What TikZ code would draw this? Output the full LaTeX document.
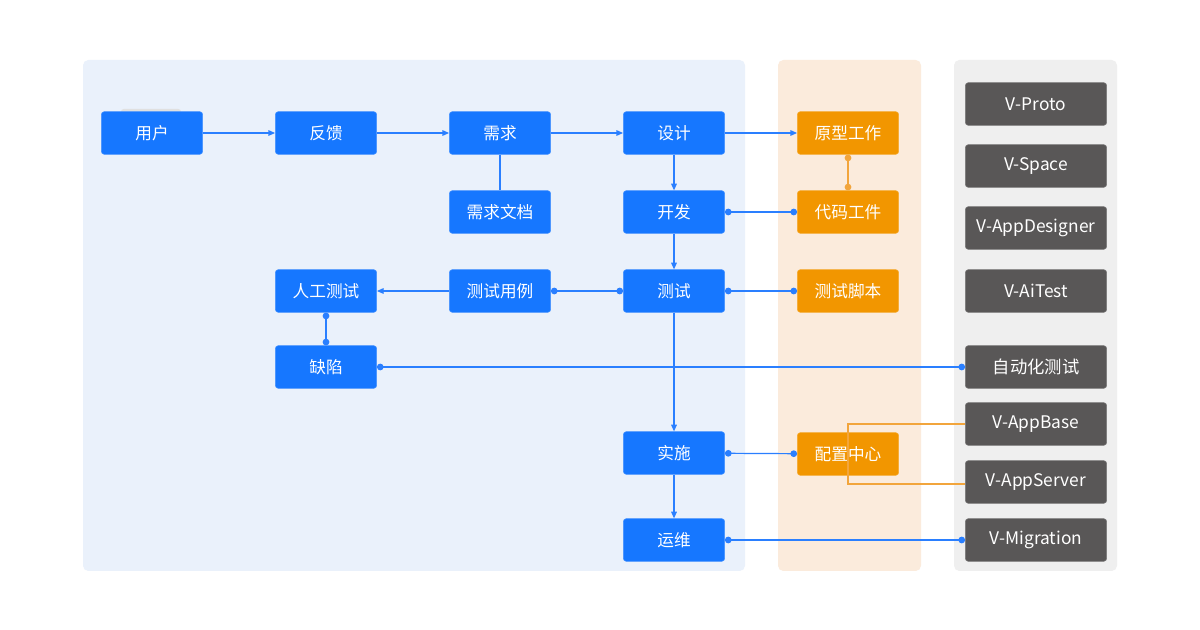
\documentclass[tikz,border=0pt]{standalone}
\usepackage{fontspec}
\setmainfont{Noto Sans CJK SC}
\usetikzlibrary{arrows.meta}
\definecolor{bluebox}{HTML}{1677FF}
\definecolor{bluepanel}{HTML}{EAF1FB}
\definecolor{orangebox}{HTML}{F29600}
\definecolor{orangepanel}{HTML}{FBEBDC}
\definecolor{graybox}{HTML}{595757}
\definecolor{graypanel}{HTML}{EFEFEF}
\definecolor{lineblue}{HTML}{2A7FFF}
\definecolor{lineorange}{HTML}{F2A53C}
\tikzset{
  x=0.75pt, y=-0.75pt,
  box/.style={rounded corners=2.2pt, minimum width=76pt, minimum height=32pt, inner sep=0pt, text=white, font=\fontsize{12.5}{14}\selectfont},
  bbox/.style={box, fill=bluebox, draw=bluebox!80!white, line width=0.4pt},
  obox/.style={box, fill=orangebox, draw=orangebox!80!white, line width=0.4pt},
  gbox/.style={box, fill=graybox, draw=graybox!80!white, line width=0.4pt, minimum width=106pt, font=\fontsize{13}{15}\selectfont},
  panel/.style={rounded corners=4pt, draw=none},
  conn/.style={draw=lineblue, line width=0.9pt},
  arr/.style={conn, -{Triangle[length=5pt,width=4.2pt]}},
  dots/.style={conn, {Circle[length=5pt]}-{Circle[length=5pt]}},
  oconn/.style={draw=lineorange, line width=0.9pt},
}
\begin{document}
\begin{tikzpicture}
\fill[white] (0,0) rectangle (1200,630);
\useasboundingbox (0,0) rectangle (1200,630);
% panels
\fill[panel, bluepanel] (83,60) rectangle (745,571);
\fill[panel, orangepanel] (778,60) rectangle (921,571);
\fill[panel, graypanel] (954,60) rectangle (1117,571);
% faint bar behind 用户
\fill[rounded corners=2pt, black!12] (121,109) rectangle (181,114);
% blue nodes
\node[bbox] (yh) at (152,133) {用户};
\node[bbox] (fk) at (326,133) {反馈};
\node[bbox] (xq) at (500,133) {需求};
\node[bbox] (sj) at (674,133) {设计};
\node[bbox] (xqwd) at (500,212) {需求文档};
\node[bbox] (kf) at (674,212) {开发};
\node[bbox] (rgcs) at (326,291) {人工测试};
\node[bbox] (csyl) at (500,291) {测试用例};
\node[bbox] (cs) at (674,291) {测试};
\node[bbox] (qx) at (326,367) {缺陷};
\node[bbox] (ss) at (674,453) {实施};
\node[bbox] (yw) at (674,540) {运维};
% orange nodes
\node[obox] (yxgz) at (848,133) {原型工作};
\node[obox] (dmgj) at (848,212) {代码工件};
\node[obox] (csjb) at (848,291) {测试脚本};
\node[obox] (pzzx) at (848,454) {配置中心};
% gray nodes
\node[gbox] (vproto) at (1036,104) {V-Proto};
\node[gbox] (vspace) at (1036,166) {V-Space};
\node[gbox] (vappd) at (1036,228) {V-AppDesigner};
\node[gbox] (vait) at (1036,291) {V-AiTest};
\node[gbox] (zdh) at (1036,367) {自动化测试};
\node[gbox] (vab) at (1036,424) {V-AppBase};
\node[gbox] (vas) at (1036,482) {V-AppServer};
\node[gbox] (vmig) at (1036,540) {V-Migration};
% connectors
\draw[arr] (yh) -- (fk);
\draw[arr] (fk) -- (xq);
\draw[arr] (xq) -- (sj);
\draw[arr] (sj) -- (yxgz);
\draw[conn] (xq) -- (xqwd);
\draw[arr] (sj) -- (kf);
\draw[draw=lineorange, line width=0.9pt, {Circle[length=5pt]}-{Circle[length=5pt]}] (yxgz) -- (dmgj);
\draw[dots] (kf) -- (dmgj);
\draw[arr] (kf) -- (cs);
\draw[dots] (cs) -- (csyl);
\draw[arr] (csyl) -- (rgcs);
\draw[dots] (cs) -- (csjb);
\draw[dots] (rgcs) -- (qx);
\draw[dots] (qx) -- (zdh);
\draw[arr] (cs) -- (ss);
\draw[dots] (ss) -- (pzzx);
\draw[arr] (ss) -- (yw);
\draw[dots] (yw) -- (vmig);
% config center bracket
\coordinate (bt) at (848,424);
\coordinate (bb) at (848,484);
\draw[oconn] (vab.west) -- (bt) -- (bb) -- (vas.west |- bb);
\end{tikzpicture}
\end{document}
